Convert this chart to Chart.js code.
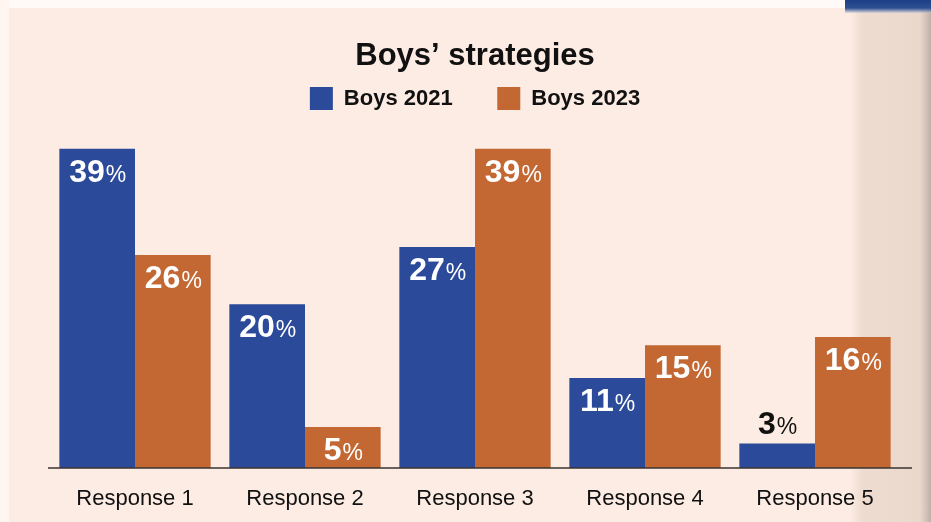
<!DOCTYPE html>
<html lang="en">
<head>
<meta charset="UTF-8" />
<title>Boys' strategies</title>
<script src="https://cdn.jsdelivr.net/npm/chart.js"></script>
<style>
  html, body { margin: 0; padding: 0; }
  body { width: 931px; height: 522px; overflow: hidden; position: relative;
         background: #fcece3; font-family: "Liberation Sans", Arial, sans-serif; }
  #topEdge { position: absolute; left: 0; top: 0; width: 931px; height: 8px; background: #fffaf7; }
  #leftEdge { position: absolute; left: 0; top: 0; width: 9px; height: 522px; background: #fff6f1; }
  #rightShade { position: absolute; left: 850px; top: 0; width: 81px; height: 522px;
                background: linear-gradient(to right, rgba(236,218,207,0) 0px, #eedcd1 12px, #ead8cd 70px, #bfb0a8 81px); }
  #corner { position: absolute; left: 845px; top: 0; width: 86px; height: 13px;
            background: linear-gradient(to bottom, #1d3f86 0px, #2d4f92 8px, rgba(200,205,220,0.4) 13px); }
  #wrap { position: absolute; left: 0; top: 0; width: 931px; height: 522px; }
</style>
</head>
<body>
<div id="topEdge"></div>
<div id="leftEdge"></div>
<div id="rightShade"></div>
<div id="corner"></div>
<div id="wrap"><canvas id="grafica" width="931" height="522"></canvas></div>

<script>
const categories = ['Response 1', 'Response 2', 'Response 3', 'Response 4', 'Response 5'];
const boys2021 = [39, 20, 27, 11, 3];
const boys2023 = [26, 5, 39, 15, 16];
const seriesNames = ['Boys 2021', 'Boys 2023'];

const BLUE = '#2c4a9a';
const ORANGE = '#c36733';
const FONT = '"Liberation Sans", Arial, sans-serif';

// labels on the bars: big bold number + smaller percent sign
const barLabels = {
  id: 'barLabels',
  afterDatasetsDraw(chart) {
    const ctx = chart.ctx;
    ctx.save();
    chart.data.datasets.forEach((ds, di) => {
      const meta = chart.getDatasetMeta(di);
      meta.data.forEach((bar, i) => {
        const v = ds.data[i];
        const num = String(v);
        ctx.font = 'bold 32px ' + FONT;
        const wNum = ctx.measureText(num).width;
        ctx.font = '23px ' + FONT;
        const wPct = ctx.measureText('%').width;
        const x0 = bar.x - (wNum + wPct) / 2;
        let base, color;
        if (v < 5) { base = bar.y - 9; color = '#111'; }
        else { base = bar.y + 33; color = '#fff'; }
        ctx.fillStyle = color;
        ctx.textBaseline = 'alphabetic';
        ctx.textAlign = 'left';
        ctx.font = 'bold 32px ' + FONT;
        ctx.fillText(num, x0, base);
        ctx.font = '23px ' + FONT;
        ctx.fillText('%', x0 + wNum + 1, base);
      });
    });
    ctx.restore();
  }
};

// baseline under the bars
const axisLine = {
  id: 'axisLine',
  afterDatasetsDraw(chart) {
    const {ctx, chartArea} = chart;
    ctx.save();
    ctx.strokeStyle = '#3a3330';
    ctx.lineWidth = 1.5;
    ctx.beginPath();
    ctx.moveTo(chartArea.left - 2, chartArea.bottom);
    ctx.lineTo(chartArea.right + 12, chartArea.bottom);
    ctx.stroke();
    ctx.restore();
  }
};

const ctx = document.getElementById('grafica').getContext('2d');
new Chart(ctx, {
  type: 'bar',
  data: {
    labels: categories,
    datasets: [
      { label: seriesNames[0], data: boys2021, backgroundColor: BLUE },
      { label: seriesNames[1], data: boys2023, backgroundColor: ORANGE }
    ]
  },
  options: {
    responsive: false,
    animation: false,
    layout: { padding: { left: 50, right: 31, top: 0, bottom: 0 } },
    datasets: { bar: { categoryPercentage: 0.89, barPercentage: 1 } },
    plugins: {
      title: {
        display: true,
        text: 'Boys\u2019 strategies',
        color: '#111',
        font: { family: FONT, size: 31, weight: 'bold', lineHeight: 1 },
        padding: { top: 41, bottom: 1 }
      },
      legend: {
        display: true,
        labels: {
          color: '#111',
          font: { family: FONT, size: 22, weight: 'bold' },
          boxWidth: 23,
          boxHeight: 23,
          padding: 14,
          generateLabels(chart) {
            const items = Chart.defaults.plugins.legend.labels.generateLabels(chart);
            items.forEach((it, i) => { it.lineWidth = 0; if (i === 0) it.text = it.text + '     '; });
            return items;
          }
        }
      },
      tooltip: { enabled: false }
    },
    scales: {
      x: {
        grid: { display: false, drawTicks: false },
        border: { display: false },
        ticks: { color: '#111', padding: 18, font: { family: FONT, size: 22 } },
        afterFit(scale) { scale.height = 54; }
      },
      y: {
        display: false,
        min: 0,
        max: 42.5
      }
    }
  },
  plugins: [barLabels, axisLine]
});
</script>
</body>
</html>
